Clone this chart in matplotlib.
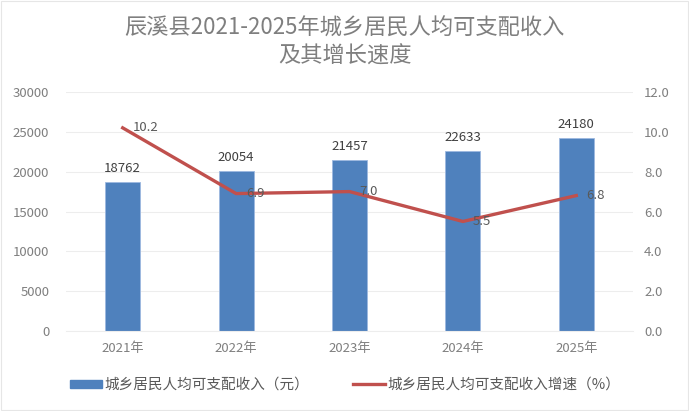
import matplotlib
matplotlib.use("Agg")
import matplotlib.pyplot as plt
from matplotlib.lines import Line2D
from matplotlib.patches import Patch

plt.rcParams['font.family'] = ['Noto Sans CJK SC', 'DejaVu Sans']

years = ["2021年", "2022年", "2023年", "2024年", "2025年"]
income = [18762, 20054, 21457, 22633, 24180]
growth = [10.2, 6.9, 7.0, 5.5, 6.8]
income_label = "城乡居民人均可支配收入（元）"
growth_label = "城乡居民人均可支配收入增速（%）"
title = "辰溪县2021-2025年城乡居民人均可支配收入\n及其增长速度"

bar_color = "#4F81BD"
line_color = "#C0504D"
tick_color = "#7F7F7F"
label_color = "#404040"

fig = plt.figure(figsize=(6.89, 4.11), dpi=100)
ax = fig.add_axes([66/689, 1-331/411, (633-66)/689, (331-92)/411])
ax2 = ax.twinx()

x = list(range(len(years)))
ax.bar(x, income, width=0.31, color=bar_color, edgecolor="#9DB9E0", linewidth=0.6, zorder=2)
for xi, v in zip(x, income):
    ax.annotate(str(v), (xi, v), xytext=(0, 5), textcoords="offset points",
                ha="center", va="bottom", fontsize=9.5, color=label_color)

ax.set_ylim(0, 30000)
ax.set_yticks(range(0, 30001, 5000))
ax.set_xlim(-0.5, len(years) - 0.5)
ax.set_xticks(x)
ax.set_xticklabels(years)
ax.grid(axis="y", color="#EDEDED", linewidth=0.8, zorder=0)
ax.set_axisbelow(True)

ax2.plot(x, growth, color=line_color, linewidth=2.4, zorder=3, solid_joinstyle="round")
for xi, v in zip(x, growth):
    ax2.annotate(f"{v:.1f}", (xi, v), xytext=(7, 0), textcoords="offset points",
                 ha="left", va="center", fontsize=9.5, color="#595959")
ax2.set_ylim(0, 12)
ax2.set_yticks([0, 2, 4, 6, 8, 10, 12])
ax2.set_yticklabels([f"{t:.1f}" for t in [0, 2, 4, 6, 8, 10, 12]])

for a in (ax, ax2):
    for s in a.spines.values():
        s.set_visible(False)
    a.tick_params(length=0, labelsize=9.5, labelcolor=tick_color)
ax.tick_params(axis="y", pad=12)
ax2.tick_params(axis="y", pad=8)
ax.tick_params(axis="x", pad=8)
ax.spines["bottom"].set_visible(True)
ax.spines["bottom"].set_color("#EDEDED")

fig.text(0.5, 1-42/411, title, ha="center", va="center", fontsize=16,
         color="#7F7F7F", linespacing=1.3)

handles = [Patch(facecolor=bar_color, edgecolor=bar_color),
           Line2D([0], [0], color=line_color, linewidth=2.4)]
fig.legend(handles, [income_label, growth_label], loc="center",
           bbox_to_anchor=(345/689, 1-385/411), ncol=2, frameon=False, fontsize=10.5,
           labelcolor="#595959", handlelength=2.2, handleheight=0.45,
           columnspacing=3.0, handletextpad=0.15)

fig.patches.append(plt.Rectangle((0.002, 0.003), 0.996, 0.994, transform=fig.transFigure,
                                 fill=False, edgecolor="#E6E6E6", linewidth=0.8))

fig.savefig("out.png", dpi=100, facecolor="white")
